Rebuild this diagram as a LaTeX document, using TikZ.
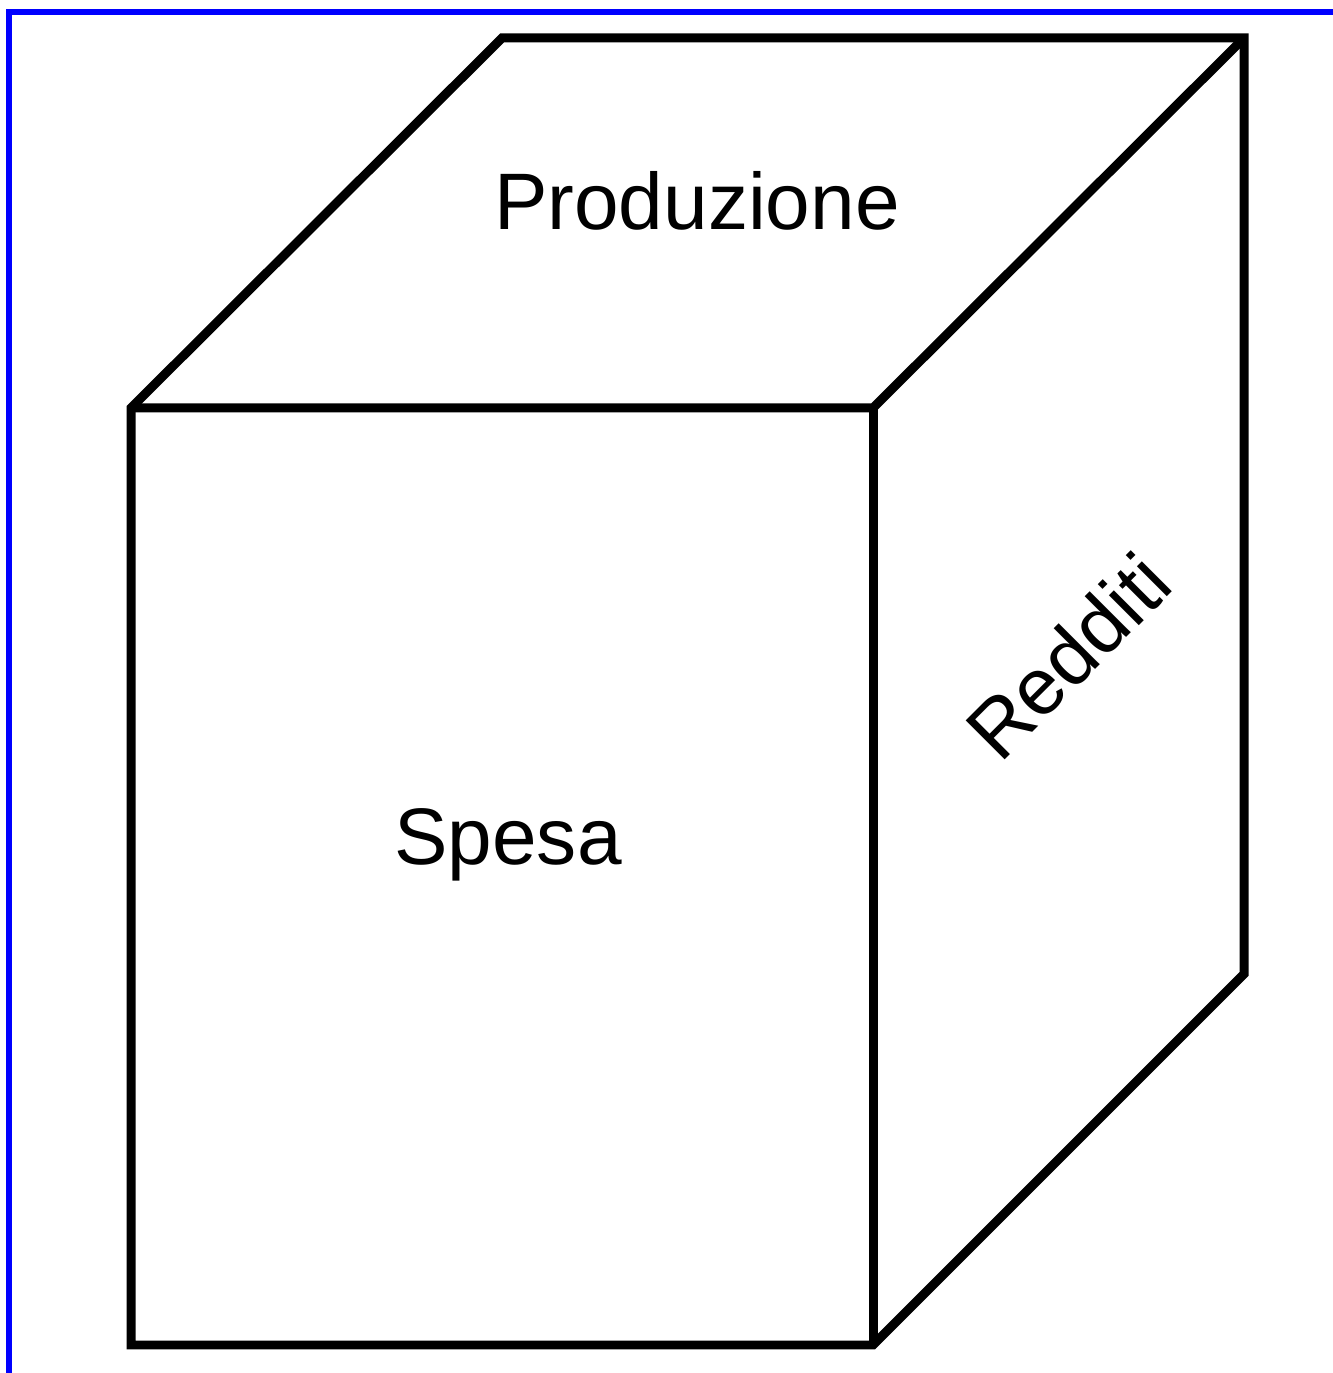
\documentclass[tikz,border=0pt]{standalone}
\usepackage{fontspec}
\setmainfont{Liberation Sans}
\tikzset{
    spigolo/.style={line width=0.09cm, black, line join=miter},
    etichetta/.style={font=\fontsize{22.8}{27}\selectfont, inner sep=0pt}
}
\begin{document}
\begin{tikzpicture}
        \useasboundingbox (0,0) rectangle (13.33,13.73);
        % cornice
        \draw [line width=0.06cm, blue, line join=miter] (0.09,0) -- (0.09,13.61) -- (13.33,13.61);
        % contorno del parallelepipedo
        \draw [spigolo] (1.31,0.28) -- (1.31,9.65) -- (5.02,13.35) -- (12.44,13.35) -- (12.44,3.99) -- (8.73,0.28) -- cycle;
        % spigoli interni
        \draw [spigolo] (1.31,9.65) -- (8.73,9.65) -- (12.44,13.35);
        \draw [spigolo] (8.73,9.65) -- (8.73,0.28);
        % scritte
        \node [etichetta, anchor=base] (produzione) at (6.97,11.43) {Produzione};
        \node [etichetta, anchor=base] (spesa) at (5.08,5.08) {Spesa};
        \node [etichetta, rotate=45] (redditi) at (10.68,7.17) {Redditi};
    \end{tikzpicture}
\end{document}
